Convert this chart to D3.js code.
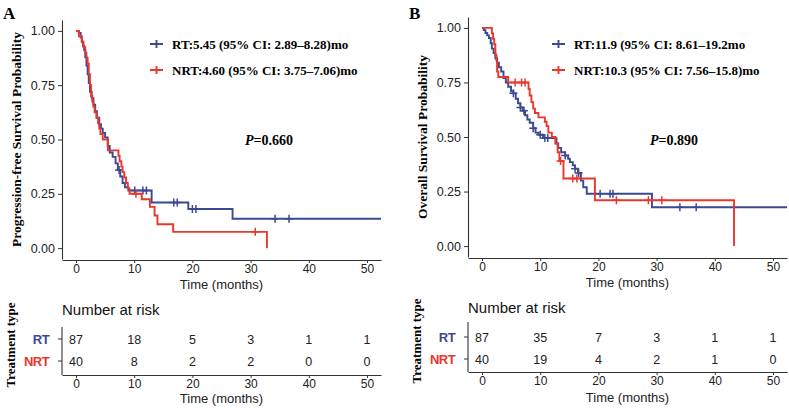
<!DOCTYPE html>
<html><head><meta charset="utf-8">
<script src="https://cdn.jsdelivr.net/npm/d3@7"></script>
<style>body{margin:0;background:#fff}svg{display:block}</style>
</head><body>
<svg id="c" width="789" height="408"></svg>
<script>
// ---------- data ----------
const timeTicks = [0, 10, 20, 30, 40, 50];
const survTicks = [0, 0.25, 0.5, 0.75, 1];
const groups = ["RT", "NRT"];

// Panel A: progression-free survival
const pfsRtTime = [0,0.5,0.8,1.0,1.2,1.4,1.6,1.8,2.0,2.2,2.4,2.7,3.0,3.3,3.6,4.0,4.3,4.6,5.0,5.45,5.8,6.3,6.8,7.2,7.6,8.0,8.4,9.0,13.0,19.3,26.9];
const pfsRtSurv = [1,0.99,0.97,0.95,0.93,0.91,0.88,0.84,0.80,0.76,0.72,0.69,0.66,0.63,0.60,0.57,0.55,0.53,0.51,0.47,0.44,0.42,0.39,0.36,0.33,0.30,0.28,0.265,0.21,0.18,0.135];
const pfsRtEnd = 52.4;
const pfsRtCensor = [7.4, 10.1, 11.5, 12.1, 16.8, 17.4, 20.0, 20.6, 34.2, 36.6];

const pfsNrtTime = [0,0.5,1.0,1.3,1.6,1.8,2.0,2.2,2.4,2.6,2.8,3.0,3.2,3.5,3.8,4.0,4.2,4.6,5.5,7.3,7.5,7.8,8.0,8.3,8.6,8.9,9.2,11.3,12.7,13.5,14.0,16.7,32.8];
const pfsNrtSurv = [1,0.975,0.95,0.925,0.9,0.875,0.85,0.8,0.75,0.7,0.675,0.65,0.625,0.6,0.575,0.55,0.525,0.5,0.45,0.425,0.4,0.375,0.35,0.325,0.3,0.275,0.25,0.225,0.19,0.15,0.11,0.075,0];
const pfsNrtEnd = 32.8;
const pfsNrtCensor = [10.3, 30.8];

const pfsRiskRT = [87, 18, 5, 3, 1, 1];
const pfsRiskNRT = [40, 8, 2, 2, 0, 0];

const pfsLegend = ["RT:5.45 (95% CI: 2.89\u20138.28)mo", "NRT:4.60 (95% CI: 3.75\u20137.06)mo"];
const pfsP = "0.660";

// Panel B: overall survival
const osRtTime = [0,0.3,0.6,0.9,1.2,1.5,1.7,2.0,2.3,2.6,2.9,3.3,3.7,4.1,4.5,5.0,5.4,5.8,6.2,6.6,7.0,7.4,7.8,8.2,8.8,9.2,9.7,10.5,12.8,13.1,13.6,14.3,14.8,15.1,15.6,16.0,16.5,17.0,17.4,18.0,29.2];
const osRtSurv = [1,0.99,0.977,0.966,0.954,0.93,0.905,0.885,0.86,0.84,0.82,0.80,0.77,0.75,0.73,0.71,0.70,0.675,0.655,0.635,0.62,0.60,0.58,0.565,0.54,0.52,0.51,0.495,0.47,0.45,0.43,0.415,0.40,0.385,0.37,0.355,0.335,0.30,0.27,0.24,0.178];
const osRtEnd = 52.4;
const osRtCensor = [5.4, 6.6, 7.2, 8.8, 10.0, 10.8, 11.3, 14.3, 16.0, 16.6, 20.3, 22.0, 22.5, 34.0, 36.8];

const osNrtTime = [0,1.7,1.9,2.1,2.3,2.5,2.6,2.8,4.5,8.0,8.2,8.5,8.8,9.1,9.7,10.8,11.1,11.4,12.0,12.6,13.0,13.3,14.0,19.4,43.3];
const osNrtSurv = [1,0.975,0.95,0.925,0.875,0.85,0.80,0.775,0.75,0.72,0.69,0.66,0.63,0.61,0.59,0.57,0.55,0.52,0.50,0.47,0.43,0.39,0.31,0.21,0];
const osNrtEnd = 43.3;
const osNrtCensor = [5.7, 6.8, 7.4, 13.5, 15.6, 16.3, 23.1, 28.6, 30.9];

const osRiskRT = [87, 35, 7, 3, 1, 1];
const osRiskNRT = [40, 19, 4, 2, 1, 0];

const osLegend = ["RT:11.9 (95% CI: 8.61\u201319.2mo", "NRT:10.3 (95% CI: 7.56\u201315.8)mo"];
const osP = "0.890";

// ---------- drawing ----------
const colors = {RT: "#3B4992", NRT: "#E8372B"};
const SANS = "'Liberation Sans', Arial, sans-serif";
const SERIF = "'Liberation Serif', 'Times New Roman', serif";
const AX = "#333";

const svg = d3.select("#c");

const panels = [
  {letter: "A", ox: 0, left: 62, top: 20, bottom: 259, ytitle: "Progression-free Survival Probability",
   ytitleX: 21, rt: [pfsRtTime, pfsRtSurv, pfsRtEnd, pfsRtCensor], nrt: [pfsNrtTime, pfsNrtSurv, pfsNrtEnd, pfsNrtCensor],
   risk: [pfsRiskRT, pfsRiskNRT], legend: pfsLegend, p: pfsP, legX: 150, pX: 245,
   tTitle: 310, tTop: 327, rowY: [339, 361], tBottom: 375, xlabY: 289, tXlabY: 403},
  {letter: "B", ox: 406, left: 468, top: 17, bottom: 257, ytitle: "Overall Survival Probability",
   ytitleX: 427, rt: [osRtTime, osRtSurv, osRtEnd, osRtCensor], nrt: [osNrtTime, osNrtSurv, osNrtEnd, osNrtCensor],
   risk: [osRiskRT, osRiskNRT], legend: osLegend, p: osP, legX: 552, pX: 650,
   tTitle: 308, tTop: 322, rowY: [337, 359], tBottom: 372, xlabY: 287, tXlabY: 402}
];

function styleAxis(g, fs) {
  g.selectAll("path.domain").attr("stroke", AX).attr("stroke-width", 1.1);
  g.selectAll(".tick line").attr("stroke", AX).attr("stroke-width", 1);
  g.selectAll(".tick text").attr("font-family", SANS).attr("font-size", fs || "12.5px").attr("fill", "#222");
}

function survAt(times, surv, t) {
  const i = d3.bisectRight(times, t) - 1;
  return surv[Math.max(0, i)];
}

panels.forEach(p => {
  const x = d3.scaleLinear().domain([-2.4, 52.4]).range([p.left, p.left + 319]);
  const y = d3.scaleLinear().domain([-0.05, 1.05]).range([p.bottom, p.top]);

  // panel letter
  svg.append("text").attr("x", p.ox + 3).attr("y", 19).text(p.letter)
    .attr("font-family", SERIF).attr("font-weight", "bold").attr("font-size", "17px").attr("fill", "#000");

  // axes
  const gy = svg.append("g").attr("transform", `translate(${p.left},0)`)
    .call(d3.axisLeft(y).tickValues(survTicks).tickFormat(d3.format(".2f")).tickSize(4).tickSizeOuter(0).tickPadding(3));
  styleAxis(gy);
  const gx = svg.append("g").attr("transform", `translate(0,${p.bottom + 1})`)
    .call(d3.axisBottom(x).tickValues(timeTicks).tickSize(3).tickSizeOuter(0).tickPadding(1));
  styleAxis(gx, "12px");

  svg.append("text").attr("transform", `translate(${p.ytitleX},${(p.top + p.bottom) / 2}) rotate(-90)`)
    .attr("text-anchor", "middle").text(p.ytitle)
    .attr("font-family", SERIF).attr("font-weight", "bold").attr("font-size", "13.5px").attr("fill", "#000");

  svg.append("text").attr("x", (p.left + p.left + 319) / 2).attr("y", p.xlabY).attr("text-anchor", "middle")
    .text("Time (months)").attr("font-family", SANS).attr("font-size", "13px").attr("fill", "#222");

  // curves
  const line = d3.line().x(d => x(d[0])).y(d => y(d[1])).curve(d3.curveStepAfter);
  [["RT", p.rt], ["NRT", p.nrt]].forEach(([g, s]) => {
    const [times, surv, end, cens] = s;
    const pts = times.map((t, i) => [t, surv[i]]);
    pts.push([end, surv[surv.length - 1]]);
    svg.append("path").datum(pts).attr("d", line).attr("fill", "none")
      .attr("stroke", colors[g]).attr("stroke-width", 1.9);
    cens.forEach(t => {
      const cx = x(t), cy = y(survAt(times, surv, t));
      svg.append("path").attr("d", `M${cx},${cy - 4}V${cy + 4}M${cx - 4},${cy}H${cx + 4}`)
        .attr("stroke", colors[g]).attr("stroke-width", 1.5);
    });
  });

  // legend
  groups.forEach((g, i) => {
    const ly = 44 + i * 26;
    svg.append("path").attr("d", `M${p.legX},${ly}H${p.legX + 13}M${p.legX + 6.5},${ly - 4}V${ly + 4}`)
      .attr("stroke", colors[g]).attr("stroke-width", 1.9);
    svg.append("text").attr("x", p.legX + 22).attr("y", ly + 5).text(p.legend[i])
      .attr("font-family", SERIF).attr("font-weight", "bold").attr("font-size", "13px").attr("fill", "#000");
  });

  // p value
  const pt = svg.append("text").attr("x", p.pX).attr("y", 145)
    .attr("font-family", SERIF).attr("font-weight", "bold").attr("font-size", "14px").attr("fill", "#000");
  pt.append("tspan").attr("font-style", "italic").text("P");
  pt.append("tspan").text("=" + p.p);

  // risk table
  svg.append("text").attr("x", p.left).attr("y", p.tTitle + 5).text("Number at risk")
    .attr("font-family", SANS).attr("font-size", "15px").attr("fill", "#111");
  const ry = d3.scalePoint().domain(groups).range(p.rowY);
  svg.append("line").attr("x1", p.left).attr("x2", p.left).attr("y1", p.tTop).attr("y2", p.tBottom)
    .attr("stroke", AX).attr("stroke-width", 1.1);
  groups.forEach((g, gi) => {
    const yy = ry(g);
    svg.append("line").attr("x1", p.left - 4).attr("x2", p.left).attr("y1", yy).attr("y2", yy).attr("stroke", AX);
    svg.append("text").attr("x", p.left - 13).attr("y", yy + 5).attr("text-anchor", "end").text(g)
      .attr("font-family", SANS).attr("font-weight", "bold").attr("font-size", "13px")
      .attr("letter-spacing", "-0.6px").attr("fill", colors[g]);
    p.risk[gi].forEach((n, k) => {
      svg.append("text").attr("x", x(timeTicks[k])).attr("y", yy + 4.5).attr("text-anchor", "middle").text(n)
        .attr("font-family", SANS).attr("font-size", "12.5px").attr("fill", "#222");
    });
  });
  const gt = svg.append("g").attr("transform", `translate(0,${p.tBottom})`)
    .call(d3.axisBottom(x).tickValues(timeTicks).tickSize(3).tickSizeOuter(0).tickPadding(1));
  styleAxis(gt, "12px");
  svg.append("text").attr("x", (p.left + p.left + 319) / 2).attr("y", p.tXlabY).attr("text-anchor", "middle")
    .text("Time (months)").attr("font-family", SANS).attr("font-size", "13px").attr("fill", "#222");
  svg.append("text").attr("transform", `translate(${p.ytitleX - 6},${(p.tTop + p.tBottom) / 2 - 6}) rotate(-90)`)
    .attr("text-anchor", "middle").text("Treatment type")
    .attr("font-family", SERIF).attr("font-weight", "bold").attr("font-size", "13px").attr("fill", "#000");
});
</script>
</body></html>
